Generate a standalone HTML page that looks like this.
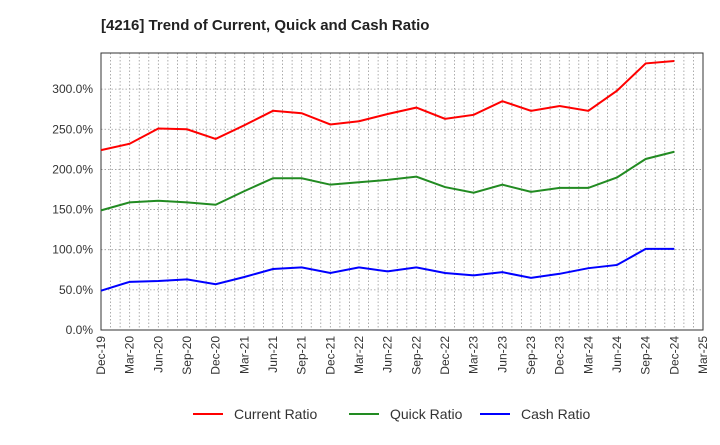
<!DOCTYPE html>
<html><head><meta charset="utf-8"><style>
body{margin:0;background:#fff;font-family:"Liberation Sans",sans-serif}
</style></head><body>
<svg id="c" width="720" height="440" xmlns="http://www.w3.org/2000/svg">
<text x="101" y="30" font-size="15" font-weight="bold" fill="#222">[4216]  Trend of Current, Quick and Cash Ratio</text>
<g id="grid"></g><g id="axes"></g><g id="series"></g><g id="legend"></g>
</svg>
<script>
const categories=["Dec-19","Mar-20","Jun-20","Sep-20","Dec-20","Mar-21","Jun-21","Sep-21","Dec-21","Mar-22","Jun-22","Sep-22","Dec-22","Mar-23","Jun-23","Sep-23","Dec-23","Mar-24","Jun-24","Sep-24","Dec-24","Mar-25"];
const currentRatio=[224,232,251,250,238,255,273,270,256,260,269,277,263,268,285,273,279,273,298,332,335];
const quickRatio=[149,159,161,159,156,173,189,189,181,184,187,191,178,171,181,172,177,177,190,213,222];
const cashRatio=[49,60,61,63,57,66,76,78,71,78,73,78,71,68,72,65,70,77,81,101,101];
const yTicks=[0,50,100,150,200,250,300];
const L=101,R=703,T=53,B=330,YMAX=345;
const NS="http://www.w3.org/2000/svg";
const xs=i=>L+(R-L)*i/(categories.length-1);
const ys=v=>B-(B-T)*v/YMAX;
function mk(p,t,a){const e=document.createElementNS(NS,t);for(const k in a)e.setAttribute(k,a[k]);document.getElementById(p).appendChild(e);return e;}
for(let m=1;m<(categories.length-1)*3;m++){const x=L+(R-L)*m/((categories.length-1)*3);
const g=mk("grid","line",{x1:x,x2:x,y1:T,y2:B,stroke:"#999","stroke-width":0.8,"stroke-dasharray":"1.5,2"});

}
yTicks.forEach(v=>{const y=ys(v);
const g=mk("grid","line",{x1:L,x2:R,y1:y,y2:y,stroke:"#999","stroke-width":0.8,"stroke-dasharray":"1.5,2"});


const t=mk("axes","text",{x:L-8,y:y+4,"font-size":12,"text-anchor":"end",fill:"#333"});t.textContent=v.toFixed(1)+"%";

});
const fr=mk("axes","rect",{x:L,y:T,width:R-L,height:B-T,fill:"none",stroke:"#333","stroke-width":1});


categories.forEach((c,i)=>{const x=xs(i);
const t=mk("axes","text",{transform:`translate(${x+4},${B+6}) rotate(-90)`,"font-size":12,"text-anchor":"end",fill:"#333"});t.textContent=c;

});
[[currentRatio,"#f00","current-ratio-line","Current Ratio",193],[quickRatio,"#228b22","quick-ratio-line","Quick Ratio",349],[cashRatio,"#00f","cash-ratio-line","Cash Ratio",480]].forEach(([d,col,n,lab,lx])=>{
const p=mk("series","polyline",{points:d.map((v,i)=>xs(i)+","+ys(v)).join(" "),fill:"none",stroke:col,"stroke-width":2});


const l=mk("legend","line",{x1:lx,x2:lx+30,y1:414,y2:414,stroke:col,"stroke-width":2});


const t=mk("legend","text",{x:lx+41,y:419,"font-size":14,fill:"#333"});t.textContent=lab;

});
</script>
</body></html>
